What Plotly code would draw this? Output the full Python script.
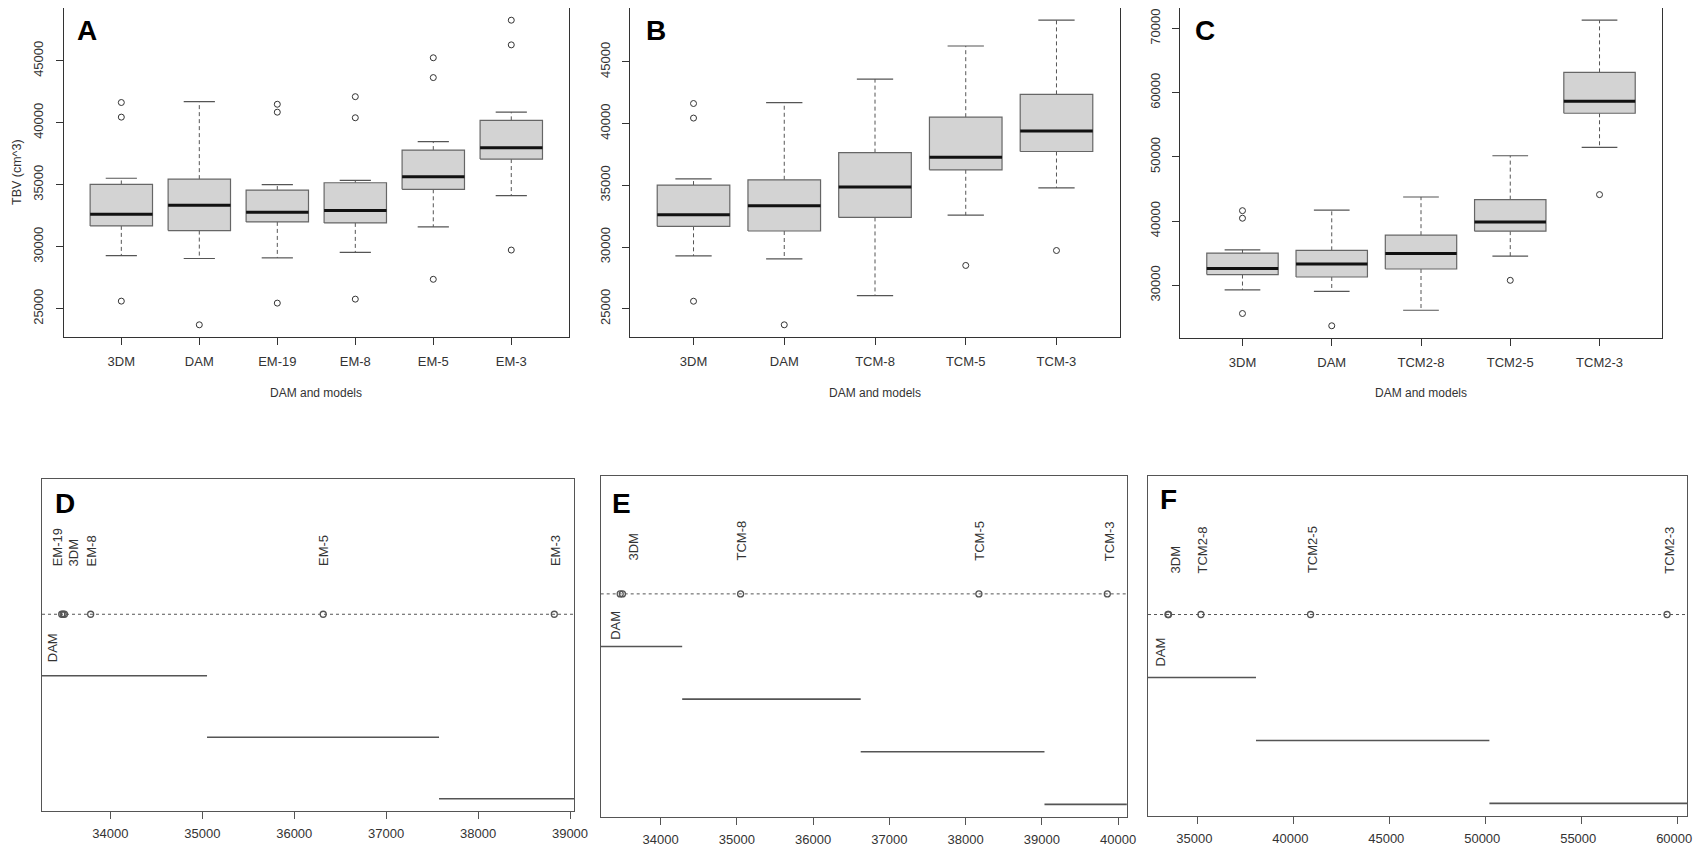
import plotly.graph_objects as go

FONT = "Liberation Sans, Arial, sans-serif"
# the page body keeps an 8 px margin, so the figure is shrunk by that much
OFF = 8
W, H = 1702 - 2 * OFF, 854 - 2 * OFF

# ---- panel A: boxplots, DAM vs EM models
cat_a = ["3DM", "DAM", "EM-19", "EM-8", "EM-5", "EM-3"]
lo_a = [29280, 29050, 29100, 29550, 31600, 34120]
q1_a = [31680, 31300, 32000, 31920, 34630, 37070]
med_a = [32620, 33340, 32770, 32930, 35640, 37980]
q3_a = [35020, 35450, 34570, 35160, 37790, 40190]
hi_a = [35520, 41700, 35000, 35350, 38480, 40850]
out_a = [[41630, 40450, 25610], [23700], [41490, 40850, 25450],
         [42100, 40400, 25770], [45240, 43640, 27370], [48270, 46280, 29730]]

# ---- panel B: boxplots, DAM vs TCM models
cat_b = ["3DM", "DAM", "TCM-8", "TCM-5", "TCM-3"]
lo_b = [29280, 29050, 26070, 32590, 34790]
q1_b = [31680, 31300, 32400, 36260, 37740]
med_b = [32620, 33340, 34870, 37280, 39400]
q3_b = [35020, 35450, 37650, 40520, 42370]
hi_b = [35520, 41700, 43610, 46290, 48380]
out_b = [[41630, 40450, 25610], [23700], [], [28510], [29720]]

# ---- panel C: boxplots, DAM vs TCM2 models
cat_c = ["3DM", "DAM", "TCM2-8", "TCM2-5", "TCM2-3"]
lo_c = [29280, 29050, 26120, 34550, 51480]
q1_c = [31680, 31300, 32540, 38440, 56800]
med_c = [32620, 33340, 34970, 39880, 58670]
q3_c = [35020, 35450, 37810, 43350, 63170]
hi_c = [35520, 41700, 43760, 50180, 71290]
out_c = [[41630, 40450, 25610], [23700], [], [30780], [44130]]

# ---- panels D-F: group means and grouping ranges
names_d = ["3DM", "DAM", "EM-19", "EM-8", "EM-5", "EM-3"]
mean_d = [33470, 33500, 33485, 33785, 36315, 38829]
seg_lo_d = [33000, 35051, 37575]
seg_hi_d = [35051, 37575, 39500]

names_e = ["3DM", "DAM", "TCM-8", "TCM-5", "TCM-3"]
mean_e = [33470, 33500, 35049, 38174, 39858]
seg_lo_e = [33000, 34283, 36624, 39034]
seg_hi_e = [34283, 36624, 39034, 40500]

names_f = ["3DM", "DAM", "TCM2-8", "TCM2-5", "TCM2-3"]
mean_f = [33470, 33500, 35188, 40899, 59470]
seg_lo_f = [32000, 38056, 50215]
seg_hi_f = [38056, 50215, 61000]

ticks_ab = [25000, 30000, 35000, 40000, 45000]
ticks_c = [30000, 40000, 50000, 60000, 70000]
ticks_d = [34000, 35000, 36000, 37000, 38000, 39000]
ticks_e = [34000, 35000, 36000, 37000, 38000, 39000, 40000]
ticks_f = [35000, 40000, 45000, 50000, 55000, 60000]


def pad(lo, hi):
    r = hi - lo
    return [lo - 0.04 * r, hi + 0.04 * r]


# positions below are screen pixels of the reference
def px_x(a):
    return min(1, max(0, (a - OFF) / W))


def px_y(a):
    return min(1, max(0, 1 - (a - OFF) / H))


def dom_x(a, b):
    return [px_x(a), px_x(b)]


def dom_y(a, b):
    return [px_y(b), px_y(a)]


fig = go.Figure()


def add_boxes(n, cats, lo, q1, med, q3, hi, outs):
    xr, yr = ("x%d" % n if n > 1 else "x"), ("y%d" % n if n > 1 else "y")
    for i in range(len(cats)):
        c = i + 1
        fig.add_trace(go.Scatter(
            x=[c, c, None, c, c], y=[q3[i], hi[i], None, q1[i], lo[i]],
            mode="lines", line=dict(color="#555", width=1, dash="4px,3px"),
            xaxis=xr, yaxis=yr, hoverinfo="skip"))
        fig.add_trace(go.Scatter(
            x=[c - 0.2, c + 0.2, None, c - 0.2, c + 0.2],
            y=[hi[i], hi[i], None, lo[i], lo[i]],
            mode="lines", line=dict(color="#555", width=1.2),
            xaxis=xr, yaxis=yr, hoverinfo="skip"))
        fig.add_trace(go.Scatter(
            x=[c - 0.4, c + 0.4, c + 0.4, c - 0.4, c - 0.4],
            y=[q1[i], q1[i], q3[i], q3[i], q1[i]],
            mode="lines", fill="toself", fillcolor="#d3d3d3",
            line=dict(color="#666", width=1.2), xaxis=xr, yaxis=yr))
        fig.add_trace(go.Scatter(
            x=[c - 0.4, c + 0.4], y=[med[i], med[i]], mode="lines",
            line=dict(color="#111", width=3), xaxis=xr, yaxis=yr))
        if outs[i]:
            fig.add_trace(go.Scatter(
                x=[c] * len(outs[i]), y=outs[i], mode="markers",
                marker=dict(symbol="circle-open", size=6, color="#333",
                            line=dict(width=1)),
                xaxis=xr, yaxis=yr))
    vals = lo + hi + [v for o in outs for v in o]
    return pad(min(vals), max(vals))


def add_groups(n, names, means, seg_lo, seg_hi, up, down, shifts):
    xr, yr = "x%d" % n, "y%d" % n
    xs, ys = [], []
    for k in range(len(seg_lo)):
        xs += [seg_lo[k], seg_hi[k], None]
        ys += [-(k + 1), -(k + 1), None]
    fig.add_trace(go.Scatter(x=xs, y=ys, mode="lines",
                             line=dict(color="#555", width=1.6),
                             xaxis=xr, yaxis=yr))
    fig.add_shape(type="line", xref="%s domain" % xr, yref=yr,
                  x0=0, x1=1, y0=0, y1=0,
                  line=dict(color="#555", width=1, dash="dot"))
    fig.add_trace(go.Scatter(x=means, y=[0] * len(means), mode="markers",
                             marker=dict(symbol="circle-open", size=6,
                                         color="#555", line=dict(width=1.3)),
                             xaxis=xr, yaxis=yr))
    for name, m, s in zip(names, means, shifts):
        below = name == "DAM"
        fig.add_annotation(x=m, y=0, xref=xr, yref=yr, text=name,
                           showarrow=False, textangle=-90,
                           xanchor="center",
                           yanchor="top" if below else "bottom",
                           xshift=s, yshift=-down if below else up,
                           font=dict(family=FONT, size=13, color="#333"))
    return pad(min(means), max(means)), pad(-len(seg_lo), 2)


yr_a = add_boxes(1, cat_a, lo_a, q1_a, med_a, q3_a, hi_a, out_a)
yr_b = add_boxes(2, cat_b, lo_b, q1_b, med_b, q3_b, hi_b, out_b)
yr_c = add_boxes(3, cat_c, lo_c, q1_c, med_c, q3_c, hi_c, out_c)
xr_d, yr_d = add_groups(4, names_d, mean_d, seg_lo_d, seg_hi_d, 46, 17,
                        [12, -12, -6, 1, 1, 1])
xr_e, yr_e = add_groups(5, names_e, mean_e, seg_lo_e, seg_hi_e, 31, 15,
                        [13, -7, 1, 1, 3])
xr_f, yr_f = add_groups(6, names_f, mean_f, seg_lo_f, seg_hi_f, 39, 21,
                        [7.5, -9, 1.5, 1.5, 1.6])

tickfont = dict(family=FONT, size=13, color="#333")
ax = dict(showgrid=False, zeroline=False, showline=True, mirror=True,
          linewidth=1, ticks="outside", ticklen=7, tickwidth=1,
          tickfont=tickfont, automargin=False, tickformat="d",
          ticklabeloverflow="allow")

top = dict(ax, linecolor="#333", tickcolor="#333")
bot = dict(ax, linecolor="#555", tickcolor="#555")
xs_top = dict(top, ticklabelstandoff=5)
ys_top = dict(top, tickangle=-90, ticklabelstandoff=7)
xs_bot = dict(bot, ticklabelstandoff=3)
ys_bot = dict(bot, ticks="", showticklabels=False)

fig.update_layout(
    width=W, height=H, margin=dict(l=0, r=0, t=0, b=0),
    paper_bgcolor="white", plot_bgcolor="white", showlegend=False,
    xaxis=dict(xs_top, domain=dom_x(63.6, 569), range=[0.26, 6.74],
               tickvals=list(range(1, 7)), ticktext=cat_a),
    yaxis=dict(ys_top, domain=dom_y(6, 337), range=yr_a, tickvals=ticks_ab),
    xaxis2=dict(xs_top, domain=dom_x(630, 1120), range=[0.3, 5.7],
                tickvals=list(range(1, 6)), ticktext=cat_b, anchor="y2"),
    yaxis2=dict(ys_top, domain=dom_y(6, 337), range=yr_b, tickvals=ticks_ab,
                anchor="x2"),
    xaxis3=dict(xs_top, domain=dom_x(1180, 1662), range=[0.3, 5.7],
                tickvals=list(range(1, 6)), ticktext=cat_c, anchor="y3"),
    yaxis3=dict(ys_top, domain=dom_y(6.7, 338), range=yr_c, tickvals=ticks_c,
                anchor="x3"),
    xaxis4=dict(xs_bot, domain=dom_x(42, 574), range=xr_d, tickvals=ticks_d,
                anchor="y4"),
    yaxis4=dict(ys_bot, domain=dom_y(479, 811), range=yr_d, anchor="x4"),
    xaxis5=dict(xs_bot, domain=dom_x(600.7, 1126.8), range=xr_e,
                tickvals=ticks_e, anchor="y5"),
    yaxis5=dict(ys_bot, domain=dom_y(476, 817), range=yr_e, anchor="x5"),
    xaxis6=dict(xs_bot, domain=dom_x(1148, 1687), range=xr_f,
                tickvals=ticks_f, anchor="y6", ticklabelshift=-3),
    yaxis6=dict(ys_bot, domain=dom_y(476, 816), range=yr_f, anchor="x6"),
)

# panel letters
for txt, px, py in [("A", 86.5, 31), ("B", 656, 31), ("C", 1205, 31),
                    ("D", 65, 503), ("E", 621.5, 503), ("F", 1168.5, 499.5)]:
    fig.add_annotation(x=px_x(px), y=px_y(py), xref="paper", yref="paper",
                       text="<b>%s</b>" % txt, showarrow=False,
                       xanchor="center", yanchor="middle",
                       font=dict(family=FONT, size=28, color="black"))

# axis titles
for px in [316, 875, 1421]:
    fig.add_annotation(x=px_x(px), y=px_y(393), xref="paper", yref="paper",
                       text="DAM and models", showarrow=False,
                       xanchor="center", yanchor="middle",
                       font=dict(family=FONT, size=12, color="#333"))
fig.add_annotation(x=0, y=px_y(172), xref="paper", yref="paper",
                   text="TBV (cm^3)", showarrow=False, textangle=-90,
                   xanchor="left", yanchor="middle",
                   font=dict(family=FONT, size=12.5, color="#333"))

fig.write_html("out.html")
